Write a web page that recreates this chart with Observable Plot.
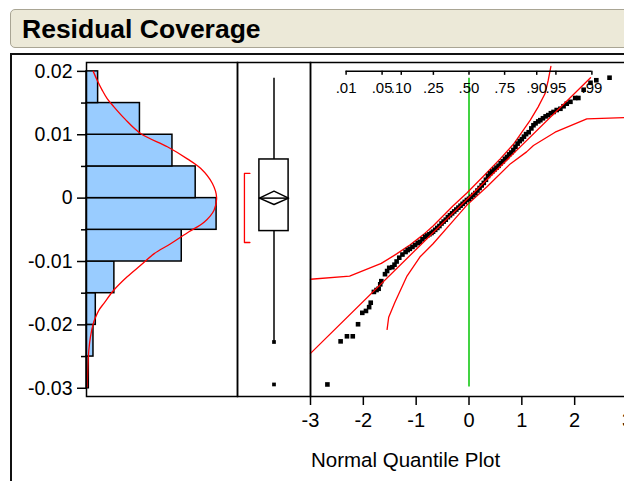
<!DOCTYPE html>
<html><head><meta charset="utf-8">
<script src="https://cdn.jsdelivr.net/npm/d3@7"></script>
<script src="https://cdn.jsdelivr.net/npm/@observablehq/plot@0.6"></script>
<style>
html,body{margin:0;padding:0;overflow:hidden;background:#fff;width:624px;height:481px}
#wrap{position:relative;width:624px;height:481px;overflow:hidden;font-family:"Liberation Sans",Arial,sans-serif;color:#000}
#titlebar{position:absolute;left:10px;top:9px;width:720px;height:39px;background:#ECE9D8;border:1.5px solid #A9A594;border-radius:5px;box-sizing:border-box}
#title{position:absolute;left:22px;top:16px;font-size:26.5px;font-weight:bold;line-height:1;white-space:nowrap}
#frame{position:absolute;left:10px;top:53px;width:720px;height:500px;border-left:2px solid #111;border-top:2px solid #111}
.panel{position:absolute;top:0;height:481px}
.panel svg{max-width:none !important;display:block}
#xlabel{position:absolute;left:311px;top:450px;font-size:20.5px;line-height:1;white-space:nowrap}
</style>
</head><body>
<div id="wrap">
  <div id="titlebar"></div>
  <div id="title">Residual Coverage</div>
  <div id="frame"></div>
  <div id="p1" class="panel" style="left:0px;width:237px"></div>
  <div id="p2" class="panel" style="left:237px;width:73px"></div>
  <div id="p3" class="panel" style="left:310px;width:400px"></div>
  <div id="xlabel">Normal Quantile Plot</div>
</div>
<script>
// ---------- data ----------
const yDomain = [-0.0313, 0.0214];
const yMajor = [0.02, 0.01, 0, -0.01, -0.02, -0.03];
const yMinor = [0.015, 0.005, -0.005, -0.015, -0.025];

// histogram bins (residual value intervals) and counts
const binLo    = [-0.030, -0.025, -0.020, -0.015, -0.010, -0.005, 0.000, 0.005, 0.010, 0.015];
const binHi    = [-0.025, -0.020, -0.015, -0.010, -0.005,  0.000, 0.005, 0.010, 0.015, 0.020];
const binCount = [1, 3, 4, 12, 41, 56, 47, 37, 23, 5];

// fitted normal density curve (value, height in count units)
const curveV = [0.0200, 0.0186, 0.0170, 0.0157, 0.0144, 0.0125, 0.0102, 0.0081, 0.0062, 0.0047, 0.0023, 0.0001, -0.0019, -0.0038, -0.0053, -0.0072, -0.0088, -0.0106, -0.0124, -0.0145, -0.0166, -0.0177, -0.0188, -0.0198, -0.0219, -0.0240, -0.0266, -0.0298];
const curveC = [2.9, 4.6, 6.8, 8.9, 11.8, 16.5, 23.3, 34.8, 43.4, 49.1, 54.2, 56.0, 54.9, 50.6, 44.1, 36.2, 29.0, 23.3, 17.5, 11.8, 7.5, 5.3, 3.9, 2.9, 1.7, 1.0, 0.6, 0.3];

// outlier box plot summary
const boxStats = {whiskerHi: 0.0189, q3: 0.0061, median: 0.0000, q1: -0.0052, whiskerLo: -0.0227};
const meanDiamond = {mean: 0.0000, ciHi: 0.0011, ciLo: -0.0010};
const shortestHalf = {lo: -0.0070, hi: 0.0039};
const boxPoints = [-0.0227, -0.0294];

// normal quantile plot points (normal quantile, residual)
const qqZ = [-2.68,-2.43,-2.31,-2.20,-2.10,-2.02,-1.95,-1.89,-1.86,-1.80,-1.75,-1.71,-1.68,-1.66,-1.59,-1.55,-1.51,-1.45,-1.41,-1.37,-1.32,-1.26,-1.20,-1.16,-1.12,-1.07,-1.02,-0.97,-0.93,-0.88,-0.83,
  -0.79,-0.75,-0.71,-0.68,-0.64,-0.60,-0.56,-0.52,-0.48,-0.44,-0.40,-0.36,-0.32,-0.28,-0.24,-0.20,-0.16,-0.12,-0.08,-0.04,0.00,0.04,0.08,0.12,0.16,0.20,0.24,0.28,0.32,0.36,0.40,0.44,0.48,0.52,0.56,0.60,0.64,0.68,0.72,0.76,0.80,0.84,0.88,0.92,0.96,1.00,1.04,1.08,1.13,1.18,1.22,1.26,1.31,1.35,1.40,1.45,1.50,1.55,1.60,1.66,1.73,1.79,1.85,1.92,2.01,2.07,2.17,2.30,2.41,2.66];
const qqV = [-0.0294,-0.0226,-0.0218,-0.0218,-0.0199,-0.0181,-0.0178,-0.0172,-0.0165,-0.0148,-0.0145,-0.0143,-0.0136,-0.0131,-0.0120,-0.0115,-0.0110,-0.0109,-0.0105,-0.0100,-0.0094,-0.0089,-0.0085,-0.0082,-0.0080,-0.0077,-0.0074,-0.0071,-0.0069,-0.0065,-0.0061,
  -0.0059,-0.0057,-0.0055,-0.0053,-0.0050,-0.0047,-0.0044,-0.0040,-0.0037,-0.0034,-0.0030,-0.0027,-0.0024,-0.0021,-0.0018,-0.0015,-0.0012,-0.0009,-0.0006,-0.0003,-0.0001,0.0002,0.0005,0.0008,0.0012,0.0016,0.0020,0.0024,0.0029,0.0035,0.0039,0.0042,0.0045,0.0048,0.0051,0.0055,0.0058,0.0062,0.0065,0.0069,0.0072,0.0076,0.0081,0.0086,0.0090,0.0093,0.0097,0.0101,0.0104,0.0110,0.0115,0.0118,0.0121,0.0123,0.0126,0.0129,0.0131,0.0134,0.0136,0.0139,0.0141,0.0145,0.0149,0.0152,0.0158,0.0158,0.0171,0.0182,0.0186,0.0190];

// fitted normal line and confidence bands
const fitZ = [-3.00, 2.30];
const fitV = [-0.0245, 0.0190];
const upperZ = [-3.00,-2.26,-1.66,-1.37,-1.12,-0.87,-0.68,-0.30,-0.04,0.30,0.59,0.84,1.16,1.31,1.44,1.50,1.55];
const upperV = [-0.0128,-0.0123,-0.0103,-0.0088,-0.0074,-0.0058,-0.0044,-0.0012,0.0008,0.0037,0.0062,0.0085,0.0123,0.0144,0.0165,0.0186,0.0208];
const lowerZ = [-1.55,-1.52,-1.40,-1.18,-0.93,-0.68,-0.30,-0.04,0.34,0.78,1.09,1.22,1.63,2.23,2.94,3.00];
const lowerV = [-0.0207,-0.0188,-0.0164,-0.0124,-0.0093,-0.0072,-0.0036,-0.0011,0.0018,0.0054,0.0073,0.0083,0.0104,0.0125,0.0127,0.0127];

// median reference line span
const refLine = {z: 0, lo: -0.0298, hi: 0.0189};

// axes of the quantile plot
const xTicks = [-3, -2, -1, 0, 1, 2, 3];
const probLabels = [".01", ".05", ".10", ".25", ".50", ".75", ".90", ".95", ".99"];
const probZ = [-2.326, -1.645, -1.282, -0.674, 0, 0.674, 1.282, 1.645, 2.326];
const probAxisAt = 0.02;

// ---------- drawing ----------
const FONT = "Liberation Sans, Arial, sans-serif";
const RED = "#ff0000";
const baseStyle = {fontFamily: FONT, color: "#000", background: "transparent", overflow: "visible", maxWidth: "none"};
const common = {height: 481, marginTop: 62, marginBottom: 85, style: baseStyle};

const bins = binLo.map((lo, i) => ({lo, hi: binHi[i], count: binCount[i]}));
const curve = curveV.map((v, i) => ({v, c: curveC[i]}));

const hist = Plot.plot({
  ...common, width: 237, marginLeft: 86, marginRight: 0,
  x: {domain: [0, 65], axis: null, label: null},
  y: {domain: yDomain, label: null},
  marks: [
    Plot.rectX(bins, {x1: 0, x2: "count", y1: "lo", y2: "hi", fill: "#99CCFF", stroke: "#000", strokeWidth: 1.5}),
    Plot.line(curve, {x: "c", y: "v", stroke: RED, strokeWidth: 1.3, curve: "catmull-rom"}),
    Plot.frame({stroke: "#000", strokeWidth: 1.5}),
    Plot.axisY(yMajor, {anchor: "left", tickSize: 9, tickPadding: 5, tickFormat: d => String(d), fontSize: 19.5, strokeWidth: 1.5, label: null}),
    Plot.axisY(yMinor, {anchor: "left", tickSize: 5, tickFormat: () => "", strokeWidth: 1.5, label: null})
  ]
});
document.getElementById("p1").appendChild(hist);

// box panel: x is a dimensionless layout coordinate, box centred at 0
const boxHalf = 0.4, bracketX = -0.81, bracketFoot = -0.66;
const diamond = [
  {x: -boxHalf, y: meanDiamond.mean}, {x: 0, y: meanDiamond.ciHi},
  {x: boxHalf, y: meanDiamond.mean}, {x: 0, y: meanDiamond.ciLo},
  {x: -boxHalf, y: meanDiamond.mean}
];
const bracket = [
  {x: bracketFoot, y: shortestHalf.hi}, {x: bracketX, y: shortestHalf.hi},
  {x: bracketX, y: shortestHalf.lo}, {x: bracketFoot, y: shortestHalf.lo}
];
const box = Plot.plot({
  ...common, width: 73, marginLeft: 0, marginRight: 0,
  x: {domain: [-1, 1], axis: null, label: null},
  y: {domain: yDomain, axis: null, label: null},
  marks: [
    Plot.ruleX([0], {y1: boxStats.whiskerLo, y2: boxStats.whiskerHi, stroke: "#000", strokeWidth: 1.5}),
    Plot.rect([boxStats], {x1: -boxHalf, x2: boxHalf, y1: "q1", y2: "q3", fill: "#fff", stroke: "#000", strokeWidth: 1.5}),
    Plot.ruleY([boxStats.median], {x1: -boxHalf, x2: boxHalf, stroke: "#000", strokeWidth: 1.5}),
    Plot.line(diamond, {x: "x", y: "y", stroke: "#000", strokeWidth: 1.5}),
    Plot.line(bracket, {x: "x", y: "y", stroke: RED, strokeWidth: 1.3}),
    Plot.dot(boxPoints, {x: 0, y: d => d, symbol: "square", r: 2.1, fill: "#000", stroke: "none"}),
    Plot.frame({stroke: "#000", strokeWidth: 1.5})
  ]
});
document.getElementById("p2").appendChild(box);

const qq = qqZ.map((z, i) => ({z, v: qqV[i]}));
const fit = fitZ.map((z, i) => ({z, v: fitV[i]}));
const upper = upperZ.map((z, i) => ({z, v: upperV[i]}));
const lower = lowerZ.map((z, i) => ({z, v: lowerV[i]}));

const qqPlot = Plot.plot({
  ...common, width: 400, marginLeft: 0, marginRight: 0,
  x: {domain: [-3, 3], range: [0, 317], label: null},
  y: {domain: yDomain, axis: null, label: null},
  marks: [
    Plot.ruleX([refLine.z], {y1: refLine.lo, y2: refLine.hi, stroke: "#14c814", strokeWidth: 1.6}),
    Plot.line(upper, {x: "z", y: "v", stroke: RED, strokeWidth: 1.3}),
    Plot.line(lower, {x: "z", y: "v", stroke: RED, strokeWidth: 1.3}),
    Plot.dot(qq, {x: "z", y: "v", symbol: "square", r: 2.6, fill: "#000", stroke: "none"}),
    Plot.line(fit, {x: "z", y: "v", stroke: RED, strokeWidth: 1.3}),
    Plot.ruleY([probAxisAt], {x1: probZ[0], x2: probZ[probZ.length - 1], stroke: "#000", strokeWidth: 1.5}),
    Plot.ruleX(probZ, {y1: probAxisAt, y2: probAxisAt, insetBottom: -4, stroke: "#000", strokeWidth: 1.5}),
    Plot.text(probZ, {x: d => d, y: probAxisAt, text: (d, i) => probLabels[i], dy: 17, fontSize: 15, fill: "#000"}),
    Plot.frame({stroke: "#000", strokeWidth: 1.5}),
    Plot.axisX(xTicks, {anchor: "bottom", tickSize: 9, tickPadding: 7, tickFormat: d => String(d), fontSize: 20, strokeWidth: 1.5, label: null})
  ]
});
document.getElementById("p3").appendChild(qqPlot);
</script>
</body></html>
